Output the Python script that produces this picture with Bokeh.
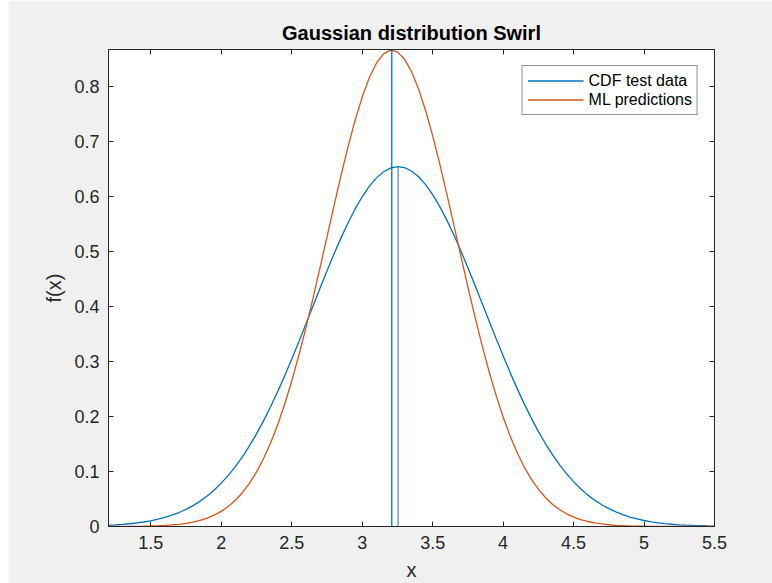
from bokeh.plotting import figure
from bokeh.models import LinearAxis, FixedTicker, CustomJSTickFormatter, Range1d, Legend, LegendItem
from bokeh.embed import file_html
from bokeh.resources import INLINE

# ---- data ----
x_vals = [1.2, 1.25, 1.3, 1.35, 1.4, 1.45, 1.5, 1.55, 1.6, 1.65, 1.7, 1.75, 1.8, 1.85,
          1.9, 1.95, 2.0, 2.05, 2.1, 2.15, 2.2, 2.25, 2.3, 2.35, 2.4, 2.45, 2.5, 2.55,
          2.6, 2.65, 2.7, 2.75, 2.8, 2.85, 2.9, 2.95, 3.0, 3.05, 3.1, 3.15, 3.2, 3.25,
          3.3, 3.35, 3.4, 3.45, 3.5, 3.55, 3.6, 3.65, 3.7, 3.75, 3.8, 3.85, 3.9, 3.95,
          4.0, 4.05, 4.1, 4.15, 4.2, 4.25, 4.3, 4.35, 4.4, 4.45, 4.5, 4.55, 4.6, 4.65,
          4.7, 4.75, 4.8, 4.85, 4.9, 4.95, 5.0, 5.05, 5.1, 5.15, 5.2, 5.25, 5.3, 5.35,
          5.4, 5.45, 5.5]
cdf_test = [0.0022, 0.0029, 0.0039, 0.0050, 0.0064, 0.0082, 0.0104, 0.0132, 0.0165, 0.0205,
            0.0254, 0.0312, 0.0380, 0.0461, 0.0555, 0.0663, 0.0788, 0.0929, 0.1089, 0.1267,
            0.1466, 0.1683, 0.1920, 0.2176, 0.2449, 0.2738, 0.3040, 0.3354, 0.3675, 0.3999,
            0.4324, 0.4643, 0.4952, 0.5246, 0.5521, 0.5772, 0.5993, 0.6181, 0.6332, 0.6444,
            0.6513, 0.6540, 0.6522, 0.6461, 0.6358, 0.6214, 0.6033, 0.5818, 0.5573, 0.5303,
            0.5012, 0.4705, 0.4388, 0.4064, 0.3740, 0.3418, 0.3103, 0.2797, 0.2506, 0.2229,
            0.1970, 0.1729, 0.1508, 0.1305, 0.1123, 0.0960, 0.0815, 0.0687, 0.0575, 0.0479,
            0.0396, 0.0325, 0.0265, 0.0214, 0.0172, 0.0138, 0.0109, 0.0086, 0.0067, 0.0052,
            0.0041, 0.0031, 0.0024, 0.0018, 0.0014, 0.0010, 0.0008]
ml_pred = [0.0001, 0.0001, 0.0002, 0.0003, 0.0004, 0.0006, 0.0009, 0.0013, 0.0019, 0.0028,
           0.0040, 0.0057, 0.0080, 0.0111, 0.0152, 0.0206, 0.0275, 0.0364, 0.0476, 0.0614,
           0.0783, 0.0988, 0.1231, 0.1516, 0.1846, 0.2221, 0.2641, 0.3104, 0.3604, 0.4137,
           0.4693, 0.5261, 0.5828, 0.6382, 0.6906, 0.7385, 0.7805, 0.8153, 0.8417, 0.8587,
           0.8658, 0.8627, 0.8496, 0.8270, 0.7954, 0.7561, 0.7104, 0.6596, 0.6052, 0.5488,
           0.4919, 0.4357, 0.3814, 0.3300, 0.2821, 0.2384, 0.1991, 0.1643, 0.1340, 0.1080,
           0.0861, 0.0678, 0.0527, 0.0405, 0.0308, 0.0231, 0.0172, 0.0126, 0.0091, 0.0065,
           0.0046, 0.0032, 0.0022, 0.0015, 0.0010, 0.0007, 0.0005, 0.0003, 0.0002, 0.0001,
           0.0001, 0.0000, 0.0000, 0.0000, 0.0000, 0.0000, 0.0000]
ml_mean_x = [3.21]
ml_mean_top = [0.866]
test_mean_x = [3.255]
test_mean_top = [0.654]
x_ticks = [1.5, 2, 2.5, 3, 3.5, 4, 4.5, 5, 5.5]
y_ticks = [0, 0.1, 0.2, 0.3, 0.4, 0.5, 0.6, 0.7, 0.8]

BLUE = "#0072BD"
ORANGE = "#D95319"
AX = "#262626"
FONT = "Liberation Sans"

p = figure(width=764, height=583, output_backend="svg", toolbar_location=None,
           x_range=Range1d(1.2, 5.5), y_range=Range1d(0, 0.867),
           min_border_left=100, min_border_right=58, min_border_top=49, min_border_bottom=57,
           background_fill_color="white", border_fill_color="#f0f0f0",
           margin=(0, 0, 0, 8))
p.xgrid.visible = False
p.ygrid.visible = False
p.outline_line_color = AX

p.title.text = "Gaussian distribution Swirl"
p.title.align = "center"
p.title.text_font = FONT
p.title.text_font_size = "20px"
p.title.text_font_style = "bold"
p.title.text_color = "black"
p.title.standoff = 11

fmt = CustomJSTickFormatter(code="return String(Math.round(tick*100)/100)")

def style_axis(ax, ticks, show_labels):
    ax.ticker = FixedTicker(ticks=ticks)
    ax.formatter = fmt
    ax.major_tick_in = 5
    ax.major_tick_out = 0
    ax.minor_tick_line_color = None
    ax.axis_line_color = AX
    ax.major_tick_line_color = AX
    ax.major_label_text_font = FONT
    ax.major_label_text_font_size = "18px"
    ax.major_label_text_color = AX if show_labels else None
    ax.axis_label_text_font = FONT
    ax.axis_label_text_font_size = "20px"
    ax.axis_label_text_font_style = "normal"
    ax.axis_label_text_color = AX

style_axis(p.xaxis[0], x_ticks, True)
style_axis(p.yaxis[0], y_ticks, True)
p.xaxis[0].axis_label = "x"
p.yaxis[0].axis_label = "f(x)"
p.xaxis[0].major_label_standoff = 9
p.yaxis[0].major_label_standoff = 9
p.xaxis[0].axis_label_standoff = 7
p.yaxis[0].axis_label_standoff = 6

top_ax = LinearAxis()
style_axis(top_ax, x_ticks, False)
top_ax.major_label_text_font_size = "0px"
top_ax.major_label_standoff = 0
p.add_layout(top_ax, "above")
right_ax = LinearAxis()
style_axis(right_ax, y_ticks, False)
right_ax.major_label_text_font_size = "0px"
right_ax.major_label_standoff = 0
p.add_layout(right_ax, "right")

r1 = p.line(x_vals, cdf_test, line_color=BLUE, line_width=1.3)
r2 = p.line(x_vals, ml_pred, line_color=ORANGE, line_width=1.3)
p.segment(x0=ml_mean_x, y0=[0], x1=ml_mean_x, y1=ml_mean_top, line_color=BLUE, line_width=1.3)
p.segment(x0=test_mean_x, y0=[0], x1=test_mean_x, y1=test_mean_top, line_color="#3d95d5", line_width=1.3)

legend = Legend(items=[LegendItem(label="CDF test data", renderers=[r1]),
                       LegendItem(label="ML predictions", renderers=[r2])],
                location="top_right", margin=16, padding=5, spacing=0,
                glyph_width=56, glyph_height=19, label_standoff=5, label_height=19,
                label_text_font=FONT, label_text_font_size="16px",
                label_text_color="black", border_line_color=AX,
                background_fill_color="white", background_fill_alpha=1.0)
p.add_layout(legend)

open("out.html", "w").write(file_html(p, INLINE))
